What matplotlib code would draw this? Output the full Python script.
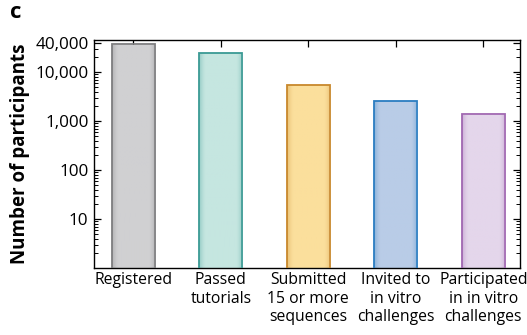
import matplotlib.pyplot as plt
import numpy as np
from matplotlib.ticker import FixedLocator, LogLocator, NullFormatter

plt.rcParams['font.family'] = ['Open Sans', 'DejaVu Sans']

labels = ['Registered', 'Passed\ntutorials', 'Submitted\n15 or more\nsequences',
          'Invited to\nin vitro\nchallenges', 'Participated\nin in vitro\nchallenges']
counts = [37000, 24500, 5500, 2600, 1380]
fills = ['#d0d0d2', '#c5e6e0', '#fbdf9c', '#b9cce7', '#e4d6eb']
edges = ['#7d7d7f', '#3a9a94', '#c8882c', '#2b7dc1', '#a067b1']
yticks = [10, 100, 1000, 10000, 40000]
ytick_labels = ['10', '100', '1,000', '10,000', '40,000']

fig = plt.figure(figsize=(5.27, 3.35), dpi=100)
ax = fig.add_axes([94/527, 1-268/335, (520-94)/527, (268-40)/335])
ax.set_yscale('log')
ax.set_ylim(1, 45000)
ax.set_xlim(-0.45, 4.42)

x = np.arange(len(counts))
bars = ax.bar(x, counts, width=0.49, color=fills, edgecolor=edges, linewidth=1.3, zorder=2)

# soft darker rim inside each bar
for b, fc, ec in zip(bars, fills, edges):
    g = np.linspace(-1, 1, 60)
    xx, yy = np.meshgrid(g, g)
    d = np.maximum(np.abs(xx), np.abs(yy) * 0.3)
    w = np.clip((d - 0.72) / 0.28, 0, 1) ** 1.5
    c0 = np.array(plt.matplotlib.colors.to_rgb(fc))
    c1 = np.array(plt.matplotlib.colors.to_rgb(ec))
    img = c0 * (1 - 0.3 * w[..., None]) + c1 * 0.3 * w[..., None]
    x0, x1 = b.get_x(), b.get_x() + b.get_width()
    im = ax.imshow(img, extent=(x0, x1, 1, b.get_height()), aspect='auto',
                   zorder=2.5, interpolation='bilinear')
    im.set_clip_path(b)
    b.set_facecolor('none')
    b.set_zorder(3)

ax.set_xticks(x)
ax.set_xticklabels(labels, fontsize=11.3, va='top', linespacing=1.2)
ax.yaxis.set_major_locator(FixedLocator(yticks))
ax.set_yticklabels(ytick_labels, fontsize=12.3)
ax.yaxis.set_minor_locator(LogLocator(base=10, subs=np.arange(2, 10)))
ax.yaxis.set_minor_formatter(NullFormatter())
ax.tick_params(axis='both', which='major', direction='in', length=5, width=0.9,
               top=True, right=True, pad=4)
ax.tick_params(axis='y', which='minor', direction='in', length=3, width=0.7, right=True)
ax.tick_params(axis='x', which='major', pad=3)
for s in ax.spines.values():
    s.set_linewidth(1.0)

ax.set_ylabel('Number of participants', fontsize=13.5, fontweight='bold', labelpad=4)
fig.text(10/527, 1-13/335, 'c', fontsize=16, fontweight='bold', va='center')

fig.savefig('out.png', dpi=100)
